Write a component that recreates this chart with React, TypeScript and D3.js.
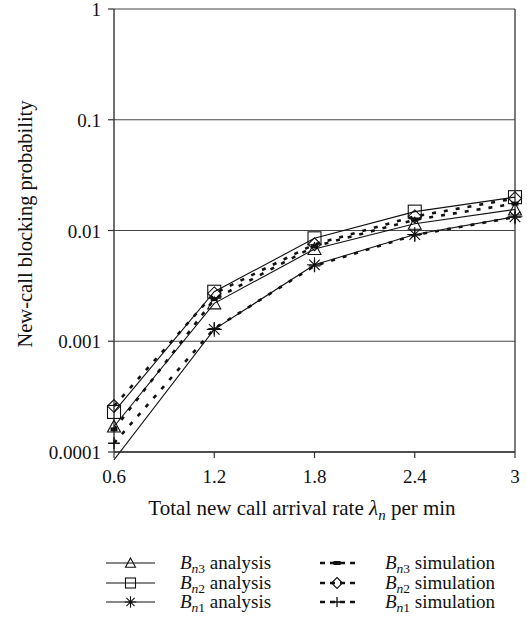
import React from "react";
import * as d3 from "d3";

const xValues = [0.6, 1.2, 1.8, 2.4, 3];
const yTicks = [1, 0.1, 0.01, 0.001, 0.0001];
const yTickLabels = ["1", "0.1", "0.01", "0.001", "0.0001"];
const xTickLabels = ["0.6", "1.2", "1.8", "2.4", "3"];

const bn3Analysis = [0.00017, 0.0022, 0.0068, 0.0115, 0.0155];
const bn2Analysis = [0.00023, 0.0028, 0.0085, 0.0148, 0.02];
const bn1Analysis = [0.000085, 0.00128, 0.0049, 0.0092, 0.0133];
const bn3Simulation = [0.00016, 0.0024, 0.0072, 0.0125, 0.0175];
const bn2Simulation = [0.00026, 0.0027, 0.0075, 0.0134, 0.0195];
const bn1Simulation = [0.00012, 0.0013, 0.0048, 0.0091, 0.0132];

type Marker = "triangle" | "square" | "asterisk" | "dash" | "diamond" | "plus";

const seriesList: { sub: string; kind: string; values: number[]; marker: Marker; dashed: boolean }[] = [
  { sub: "3", kind: "analysis", values: bn3Analysis, marker: "triangle", dashed: false },
  { sub: "2", kind: "analysis", values: bn2Analysis, marker: "square", dashed: false },
  { sub: "1", kind: "analysis", values: bn1Analysis, marker: "asterisk", dashed: false },
  { sub: "3", kind: "simulation", values: bn3Simulation, marker: "dash", dashed: true },
  { sub: "2", kind: "simulation", values: bn2Simulation, marker: "diamond", dashed: true },
  { sub: "1", kind: "simulation", values: bn1Simulation, marker: "plus", dashed: true },
];

const W = 527;
const H = 623;
const left = 114;
const right = 515;
const top = 9;
const bottom = 452;
const FONT = "'Liberation Serif', 'DejaVu Serif', serif";

function MarkerShape({ type, x, y, s = 6.5 }: { type: Marker; x: number; y: number; s?: number }) {
  const common = { fill: "none", stroke: "#111", strokeWidth: 1.1 };
  switch (type) {
    case "square":
      return <rect x={x - s} y={y - s} width={2 * s} height={2 * s} {...common} />;
    case "triangle":
      return <path d={`M${x},${y - s}L${x + s},${y + s * 0.85}L${x - s},${y + s * 0.85}Z`} {...common} />;
    case "diamond":
      return <path d={`M${x},${y - s}L${x + s},${y}L${x},${y + s}L${x - s},${y}Z`} {...common} />;
    case "asterisk": {
      const a = s * 1.15;
      const d = a * 0.707;
      return (
        <path
          d={`M${x - a},${y}L${x + a},${y}M${x},${y - a}L${x},${y + a}M${x - d},${y - d}L${x + d},${y + d}M${x - d},${y + d}L${x + d},${y - d}`}
          stroke="#111"
          strokeWidth={1.1}
          fill="none"
        />
      );
    }
    case "plus": {
      const a = s * 0.9;
      return <path d={`M${x - a},${y}L${x + a},${y}M${x},${y - a}L${x},${y + a}`} stroke="#111" strokeWidth={1.3} fill="none" />;
    }
    case "dash":
      return <rect x={x - 3.5} y={y - 2} width={7} height={4} fill="#111" />;
  }
  return null;
}

function SeriesLabel({ x, y, sub, kind }: { x: number; y: number; sub: string; kind: string }) {
  return (
    <text x={x} y={y + 6} fontFamily={FONT} fontSize={19} fill="#111">
      <tspan fontStyle="italic">B</tspan>
      <tspan dy={4} fontSize={13.5}>
        <tspan fontStyle="italic">n</tspan>
        {sub}
      </tspan>
      <tspan dy={-4}>{" " + kind}</tspan>
    </text>
  );
}

export default function App() {
  const x = d3.scaleLinear().domain([0.6, 3]).range([left, right]);
  const y = d3.scaleLog().domain([0.0001, 1]).range([bottom, top]);
  const line = d3
    .line<number>()
    .x((_, i) => x(xValues[i]))
    .y((d) => y(d));

  const legendRows = [
    { y: 563, a: seriesList[0], b: seriesList[3] },
    { y: 583, a: seriesList[1], b: seriesList[4] },
    { y: 602, a: seriesList[2], b: seriesList[5] },
  ];

  return (
    <svg width={W} height={H} style={{ position: "absolute", left: 0, top: 0, background: "#fff" }}>
      <defs>
        <clipPath id="plotClip">
          <rect x={left - 10} y={top} width={right - left + 20} height={bottom - top + 8} />
        </clipPath>
      </defs>
      {yTicks.map((t, i) => (
        <line key={"g" + i} x1={left} x2={right} y1={y(t)} y2={y(t)} stroke="#444" strokeWidth={1.2} />
      ))}
      <line x1={right} x2={right} y1={top} y2={bottom} stroke="#444" strokeWidth={1.4} />
      <line x1={left} x2={left} y1={top} y2={bottom} stroke="#333" strokeWidth={1.4} />
      <line x1={left} x2={right} y1={bottom} y2={bottom} stroke="#333" strokeWidth={1.4} />
      {yTicks.map((t, i) => (
        <g key={"yt" + i}>
          <line x1={left - 6} x2={left} y1={y(t)} y2={y(t)} stroke="#333" strokeWidth={1.2} />
          <text x={left - 13} y={y(t) + 7} textAnchor="end" fontFamily={FONT} fontSize={19} fill="#111">
            {yTickLabels[i]}
          </text>
        </g>
      ))}
      {xValues.map((v, i) => (
        <g key={"xt" + i}>
          <line x1={x(v)} x2={x(v)} y1={bottom} y2={bottom + 6} stroke="#333" strokeWidth={1.2} />
          <text x={x(v)} y={bottom + 31} textAnchor="middle" fontFamily={FONT} fontSize={19} fill="#111">
            {xTickLabels[i]}
          </text>
        </g>
      ))}
      <text x={302} y={515} textAnchor="middle" fontFamily={FONT} fontSize={21} fill="#111">
        Total new call arrival rate <tspan fontStyle="italic">λ</tspan>
        <tspan dy={5} fontSize={15} fontStyle="italic">n</tspan>
        <tspan dy={-5}> per min</tspan>
      </text>
      <text
        transform={`translate(27, 224) rotate(-90)`}
        textAnchor="middle"
        dominantBaseline="middle"
        fontFamily={FONT}
        fontSize={20.5}
        fill="#111"
      >
        New-call blocking probability
      </text>
      <g clipPath="url(#plotClip)">
        {seriesList.map((s, i) => (
          <path
            key={"l" + i}
            d={line(s.values) || ""}
            fill="none"
            stroke="#111"
            strokeWidth={s.dashed ? 2.6 : 1.1}
            strokeDasharray={s.dashed ? "4,8" : undefined}
          />
        ))}
        {seriesList.map((s, i) =>
          s.values.map((v, j) =>
            y(v) > bottom + 2 ? null : <MarkerShape key={`m${i}-${j}`} type={s.marker} x={x(xValues[j])} y={y(v)} />
          )
        )}
      </g>
      {legendRows.map((r, i) => (
        <g key={"lg" + i}>
          <line x1={106} x2={155} y1={r.y} y2={r.y} stroke="#111" strokeWidth={1.1} />
          <MarkerShape type={r.a.marker} x={130.5} y={r.y} s={5} />
          <SeriesLabel x={180} y={r.y} sub={r.a.sub} kind={r.a.kind} />
          <line x1={320} x2={360} y1={r.y} y2={r.y} stroke="#111" strokeWidth={2.6} strokeDasharray="5,5" />
          <MarkerShape type={r.b.marker} x={337} y={r.y} s={5.5} />
          <SeriesLabel x={385} y={r.y} sub={r.b.sub} kind={r.b.kind} />
        </g>
      ))}
    </svg>
  );
}
